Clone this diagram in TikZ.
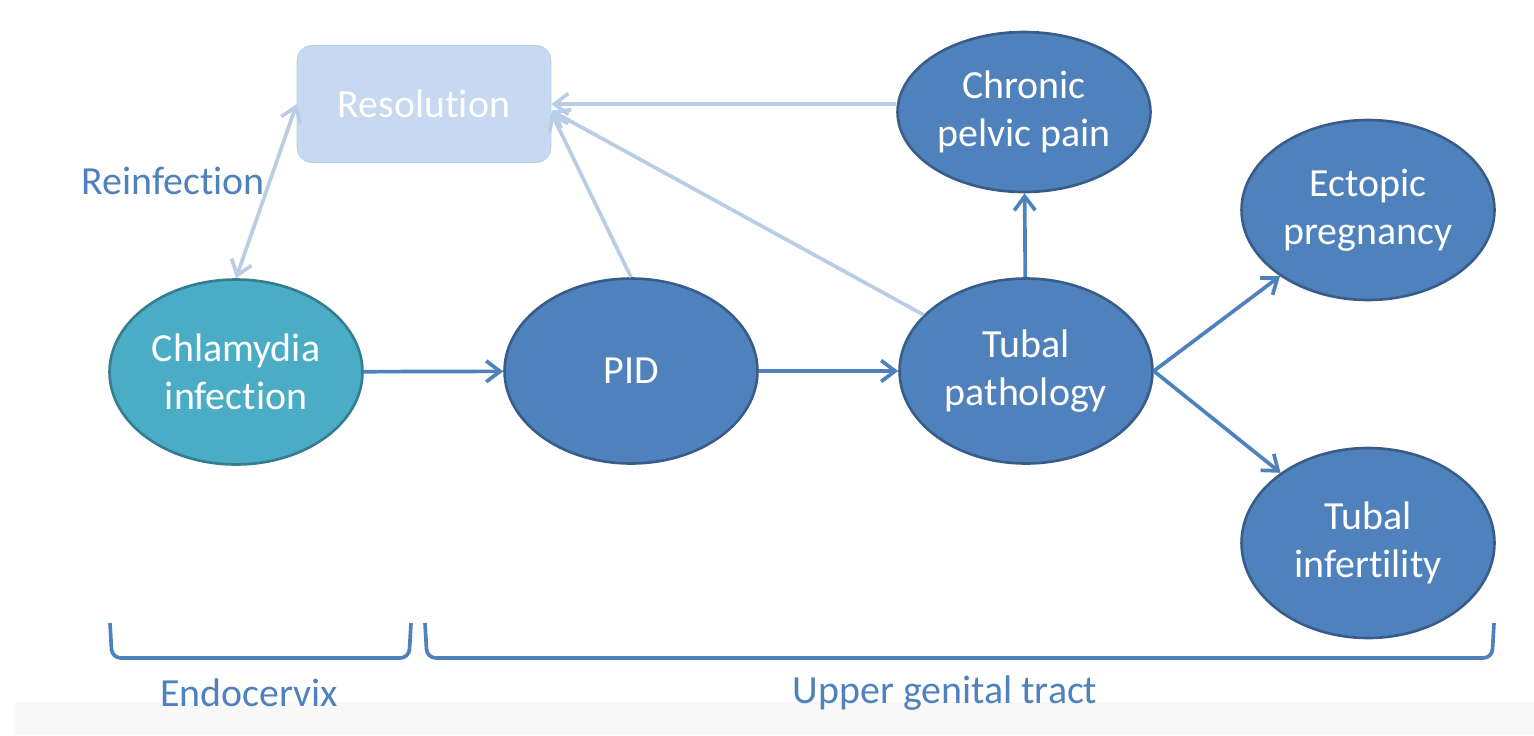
\documentclass[tikz,border=0pt]{standalone}
\usepackage{fontspec}
\setmainfont{Carlito}
\usetikzlibrary{shapes.geometric, arrows.meta, positioning, calc}
\definecolor{accblue}{HTML}{4F81BD}
\definecolor{accdark}{HTML}{385D8A}
\definecolor{accteal}{HTML}{4BACC6}
\definecolor{tealdark}{HTML}{357D91}
\definecolor{palefill}{HTML}{C6D9F1}
\definecolor{paleline}{HTML}{B9CDE5}
\definecolor{bandgray}{HTML}{F8F8F8}
% keeps "t" and "i" apart (no ti ligature)
\newcommand{\nolig}{\kern0pt\relax}

\begin{document}
\begin{tikzpicture}[
    x=0.02cm, y=-0.02cm,
    txt/.style={font=\fontsize{22.7}{27.5}\selectfont},
    stage/.style={ellipse, draw=accdark, line width=1.5pt, fill=accblue, text=white, align=center,
        inner sep=0pt, minimum width=5.06cm, minimum height=3.7cm, txt},
    resbox/.style={rectangle, rounded corners=0.3cm, draw=palefill!85!accblue, line width=0.4pt,
        fill=palefill, text=white, minimum width=5.08cm, minimum height=2.34cm, txt},
    flow/.style={draw=accblue, line width=2.1pt, -{Straight Barb[length=0.28cm, width=0.42cm]}},
    back/.style={draw=paleline, line width=2.1pt, -{Straight Barb[length=0.28cm, width=0.42cm]}},
    twoway/.style={back, {Straight Barb[length=0.28cm, width=0.42cm]}-{Straight Barb[length=0.28cm, width=0.42cm]}},
    bracket/.style={draw=accblue, line width=2.1pt, rounded corners=5pt},
    lbl/.style={txt, text=accblue}
]
    \useasboundingbox (0,0) rectangle (1534,735);
    \fill[bandgray] (15,702) rectangle (1534,735);

    % states
    \node[resbox] (res) at (424,104) {Resolut\nolig ion};
    \node[stage, fill=accteal, draw=tealdark] (chlam) at (236,372) {Chlamydia\\infect\nolig ion};
    \node[stage] (pid) at (631,371) {PID};
    \node[stage, minimum height=3.7cm] (tubal) at (1026,371) {Tubal\\pathology};
    \node[stage, minimum height=3.2cm] (pain) at (1024,112) {Chronic\\pelvic pain};
    \node[stage, minimum height=3.6cm] (ectopic) at (1368,210) {Ectopic\\pregnancy};
    \node[stage, minimum height=3.8cm] (infert) at (1368,543) {Tubal\\infert\nolig ility};
    \node[lbl] (reinf) at (173,181) {Reinfect\nolig ion};

    % progression
    \draw[flow] (chlam) -- (pid);
    \draw[flow] (pid) -- (tubal);
    \draw[flow] (tubal) -- (pain);
    \draw[flow] (tubal.east) -- (ectopic);
    \draw[flow] (tubal.east) -- (infert);

    % back to resolution
    \draw[back] (pain.west |- res.east) -- (res.east);
    \draw[back] (tubal) -- (res.-3);
    \draw[back] (pid.north) -- (res.-4);
    \draw[twoway] (res.west) -- (chlam.north);

    % sites
    \draw[bracket] (110,623) -- (112,658) -- (409,658) -- (411,623);
    \draw[bracket] (425,623) -- (427,658) -- (1492,658) -- (1494,623);
    \node[lbl] (endo) at (249,693) {Endocervix};
    \node[lbl] (upper) at (945,693) {Upper genital tract};
\end{tikzpicture}
\end{document}
